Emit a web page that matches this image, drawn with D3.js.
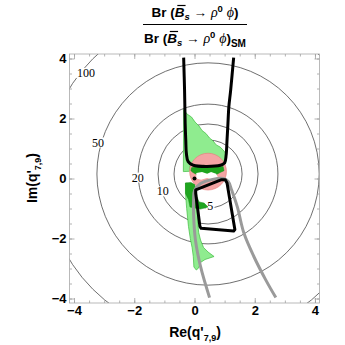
<!DOCTYPE html>
<html><head><meta charset="utf-8">
<script src="https://cdn.jsdelivr.net/npm/d3@7"></script>
<style>body{margin:0;background:#fff} .cl text{opacity:0.99}</style>
</head><body>
<svg id="c" width="345" height="345" xmlns="http://www.w3.org/2000/svg"></svg>
<script>
// ---------- data ----------
const majorTicks = [-4, -2, 0, 2, 4];
const minorTicks = [-4, -3.5, -3, -2.5, -2, -1.5, -1, -0.5, 0, 0.5, 1, 1.5, 2, 2.5, 3, 3.5, 4];
const contourLevels = [5, 10, 20, 50, 100];
const contourRadii = [1.13, 1.66, 2.32, 3.69, 5.41];
const contourCenter = [0.45, 0.15];
const contourLabelPos = [[0.52, -0.93], [-1.05, -0.43], [-1.88, 0.03], [-3.2, 1.2], [-3.6, 3.52]];
const smPoint = [0, 0];
const pinkCenter = [0.45, 0.23];
const pinkRadius = 0.61;
const lightGreenUpper = [[-0.36,2.3],[-0.25,2.15],[-0.1,2.05],[0.02,1.88],[0.15,1.75],[0.25,1.6],[0.38,1.5],[0.5,1.35],[0.62,1.25],[0.72,1.12],[0.85,1.05],[0.95,0.95],[1.03,0.85],[1.04,0.5],[0.9,0.42],[-0.15,0.42],[-0.16,0.24],[-0.37,0.23]];
const darkGreenUpper = [[-0.1,0.36],[0.3,0.44],[0.6,0.42],[0.95,0.4],[0.98,0.26],[0.85,0.2],[0.7,0.12],[0.55,0.18],[0.4,0.1],[0.25,0.15],[0.1,0.12],[-0.05,0.2],[-0.12,0.26]];
const whiteHole = [[0.06,0.18],[0.25,0.22],[0.42,0.16],[0.55,0.22],[0.72,0.16],[0.78,0.03],[0.6,-0.04],[0.42,0.02],[0.22,-0.04],[0.06,0.0]];
const darkGreenLower = [[-0.3,-0.15],[-0.12,-0.13],[0.0,-0.2],[0.06,-0.38],[0.08,-0.6],[0.15,-0.78],[0.32,-0.82],[0.45,-0.95],[0.2,-1.02],[0.0,-0.98],[-0.15,-0.95],[-0.2,-0.7],[-0.3,-0.5]];
const lightGreenLower = [[-0.3,-0.15],[-0.29,-0.6],[-0.26,-1.0],[-0.2,-1.6],[-0.14,-2.0],[-0.08,-2.3],[-0.04,-2.6],[-0.02,-2.95],[0.06,-3.05],[0.14,-2.98],[0.2,-2.8],[0.35,-2.7],[0.65,-2.6],[0.45,-2.45],[0.3,-2.3],[0.2,-2.05],[0.14,-1.8],[0.12,-1.6],[0.1,-1.2],[0.12,-1.0],[0.0,-0.2]];
const blackU = [[-0.36,4.03],[-0.33,2.94],[-0.31,1.83],[-0.29,1.28],[-0.27,0.84],[-0.21,0.56],[-0.04,0.44],[0.86,0.44],[1.0,0.52],[1.05,0.78],[1.08,1.28],[1.11,1.83],[1.14,2.39],[1.2,2.94],[1.3,4.03]];
const blackQuad = [[0.04,-0.38],[0.9,-0.04],[1.02,-0.04],[1.08,-0.15],[1.34,-1.7],[1.3,-1.75],[0.22,-1.66],[0.18,-1.6],[0.04,-0.5]];
const grayCurve = [[0.5,-3.97],[0.2,-2.93],[0.03,-2.04],[-0.03,-1.2],[-0.03,-0.7],[0.0,-0.4],[0.2,-0.17],[0.6,-0.03],[0.95,0.0],[1.12,-0.1],[1.22,-0.35],[1.42,-0.94],[1.64,-1.82],[1.97,-2.6],[2.36,-3.37],[2.7,-3.97]];

// ---------- setup ----------
const svg = d3.select('#c');
const x = d3.scaleLinear().domain([-4.15, 4.15]).range([69.5, 319.5]);
const y = d3.scaleLinear().domain([-4.15, 4.15]).range([303, 54]);
const FONT = "'Liberation Sans', Arial, sans-serif";
const SERIF = "'Liberation Serif', 'Times New Roman', serif";

svg.append('defs').append('clipPath').attr('id', 'clip')
  .append('rect').attr('x', x(-4.15)).attr('y', y(4.15))
  .attr('width', x(4.15) - x(-4.15)).attr('height', y(-4.15) - y(4.15));

const plot = svg.append('g').attr('clip-path', 'url(#clip)');

// contours
plot.selectAll('circle.ct').data(contourRadii).join('circle')
  .attr('class', 'ct')
  .attr('cx', x(contourCenter[0])).attr('cy', y(contourCenter[1]))
  .attr('r', d => x(d) - x(0))
  .attr('fill', 'none').attr('stroke', '#4a4a4a').attr('stroke-width', 0.8);

const labels = plot.selectAll('g.cl').data(contourLevels).join('g')
  .attr('class', 'cl')
  .attr('transform', (d, i) => `translate(${x(contourLabelPos[i][0])},${y(contourLabelPos[i][1])})`);
labels.append('rect')
  .attr('x', d => -String(d).length * 3.2 - 1).attr('y', -5)
  .attr('width', d => String(d).length * 6.4 + 2).attr('height', 10)
  .attr('fill', '#fff');
labels.append('text')
  .attr('text-anchor', 'middle').attr('y', 4)
  .attr('font-family', SERIF).attr('font-size', 12)
  .attr('fill', '#000')
  .text(d => d);

const line = d3.line().x(d => x(d[0])).y(d => y(d[1]));
const poly = d3.line().x(d => x(d[0])).y(d => y(d[1])).curve(d3.curveLinearClosed);

// regions
plot.append('path').attr('d', poly(lightGreenUpper))
  .attr('fill', '#8fec8f').attr('stroke', '#3dbb3d').attr('stroke-width', 0.7);
plot.append('path').attr('d', poly(lightGreenLower))
  .attr('fill', '#8fec8f').attr('stroke', '#3dbb3d').attr('stroke-width', 0.7);
plot.append('circle')
  .attr('cx', x(pinkCenter[0])).attr('cy', y(pinkCenter[1]))
  .attr('r', x(pinkRadius) - x(0))
  .attr('fill', '#f4a4a4').attr('stroke', '#e88080').attr('stroke-width', 0.7);
plot.append('path').attr('d', poly(darkGreenUpper))
  .attr('fill', '#1fa51f').attr('stroke', '#168a16').attr('stroke-width', 0.5);
plot.append('path').attr('d', poly(whiteHole))
  .attr('fill', '#ffffff');
plot.append('path').attr('d', poly(darkGreenLower))
  .attr('fill', '#1fa51f').attr('stroke', '#168a16').attr('stroke-width', 0.5);

// curves
plot.append('path').attr('d', line.curve(d3.curveCatmullRom.alpha(0.5))(grayCurve))
  .attr('fill', 'none').attr('stroke', '#9a9a9a').attr('stroke-width', 3)
  .attr('stroke-linejoin', 'round');
plot.append('path').attr('d', d3.line().x(d => x(d[0])).y(d => y(d[1])).curve(d3.curveCatmullRom.alpha(0.5))(blackU))
  .attr('fill', 'none').attr('stroke', '#000').attr('stroke-width', 3)
  .attr('stroke-linejoin', 'round');
plot.append('path').attr('d', poly(blackQuad))
  .attr('fill', 'none').attr('stroke', '#000').attr('stroke-width', 3)
  .attr('stroke-linejoin', 'round');
plot.append('circle').attr('cx', x(smPoint[0])).attr('cy', y(smPoint[1]))
  .attr('r', 2).attr('fill', '#000');

// ---------- axes ----------
function styleAxis(g) {
  g.select('.domain').remove();
  g.selectAll('line').attr('stroke', '#a0a0a0').attr('stroke-width', 0.8);
  g.selectAll('text').attr('font-family', FONT).attr('font-weight', 'bold')
    .attr('font-size', 13).attr('fill', '#000');
}
const fmt = d => (d < 0 ? '\u2212' + Math.abs(d) : '' + d);
// minor
svg.append('g').attr('transform', `translate(0,${y(-4.15)})`)
  .call(d3.axisBottom(x).tickValues(minorTicks).tickSize(-2.5).tickFormat('')).call(styleAxis);
svg.append('g').attr('transform', `translate(0,${y(4.15)})`)
  .call(d3.axisTop(x).tickValues(minorTicks).tickSize(-2.5).tickFormat('')).call(styleAxis);
svg.append('g').attr('transform', `translate(${x(-4.15)},0)`)
  .call(d3.axisLeft(y).tickValues(minorTicks).tickSize(-2.5).tickFormat('')).call(styleAxis);
svg.append('g').attr('transform', `translate(${x(4.15)},0)`)
  .call(d3.axisRight(y).tickValues(minorTicks).tickSize(-2.5).tickFormat('')).call(styleAxis);
// major
svg.append('g').attr('transform', `translate(0,${y(-4.15)})`)
  .call(d3.axisBottom(x).tickValues(majorTicks).tickSize(-5).tickPadding(3).tickFormat(fmt)).call(styleAxis);
svg.append('g').attr('transform', `translate(0,${y(4.15)})`)
  .call(d3.axisTop(x).tickValues(majorTicks).tickSize(-5).tickFormat('')).call(styleAxis);
svg.append('g').attr('transform', `translate(${x(-4.15)},0)`)
  .call(d3.axisLeft(y).tickValues(majorTicks).tickSize(-5).tickPadding(3).tickFormat(fmt)).call(styleAxis);
svg.append('g').attr('transform', `translate(${x(4.15)},0)`)
  .call(d3.axisRight(y).tickValues(majorTicks).tickSize(-5).tickFormat('')).call(styleAxis);

// frame
svg.append('rect').attr('x', x(-4.15)).attr('y', y(4.15))
  .attr('width', x(4.15) - x(-4.15)).attr('height', y(-4.15) - y(4.15))
  .attr('fill', 'none').attr('stroke', '#a8a8a8').attr('stroke-width', 0.8);

// ---------- axis labels ----------
function axisLabel(g, main) {
  g.append('tspan').text(main);
  g.append('tspan').attr('font-size', 9).attr('dy', 4).text('7,9');
  g.append('tspan').attr('dy', -4).text(')');
}
const xl = svg.append('text').attr('x', 195).attr('y', 337)
  .attr('text-anchor', 'middle').attr('font-family', FONT).attr('font-weight', 'bold').attr('font-size', 14);
axisLabel(xl, "Re(q'");
const yl = svg.append('text').attr('transform', 'translate(37,178) rotate(-90)')
  .attr('text-anchor', 'middle').attr('font-family', FONT).attr('font-weight', 'bold').attr('font-size', 14);
axisLabel(yl, "Im(q'");

// ---------- title ----------
function titleLine(yPos, withSM) {
  const t = svg.append('text').attr('x', 195).attr('y', yPos).attr('text-anchor', 'middle')
    .attr('font-family', FONT).attr('font-weight', 'bold').attr('font-size', 13.5);
  t.append('tspan').text('Br (');
  t.append('tspan').attr('font-style', 'italic').text('B');
  t.append('tspan').attr('font-style', 'italic').attr('font-size', 9.5).attr('dy', 3).text('s');
  t.append('tspan').attr('dy', -3).text(' \u2192 ');
  t.append('tspan').attr('font-family', SERIF).attr('font-style', 'italic').attr('font-weight', 'normal').attr('font-size', 14).text('\u03C1');
  t.append('tspan').attr('font-size', 9.5).attr('dy', -5).text('0');
  t.append('tspan').attr('dy', 5).text(' ');
  t.append('tspan').attr('font-family', SERIF).attr('font-style', 'italic').attr('font-weight', 'normal').attr('font-size', 14).text('\u03D5');
  t.append('tspan').text(')');
  if (withSM) t.append('tspan').attr('font-size', 10).attr('dy', 4).text('SM');
  const node = t.node();
  const ext = node.getExtentOfChar(4);
  svg.append('line').attr('x1', ext.x + 2.5).attr('x2', ext.x + ext.width + 1)
    .attr('y1', ext.y + 0.5).attr('y2', ext.y + 0.5)
    .attr('stroke', '#000').attr('stroke-width', 1.2);
}
titleLine(17, false);
titleLine(43, true);
svg.append('line').attr('x1', 143).attr('x2', 247).attr('y1', 24.5).attr('y2', 24.5)
  .attr('stroke', '#000').attr('stroke-width', 1);
</script>
</body></html>
